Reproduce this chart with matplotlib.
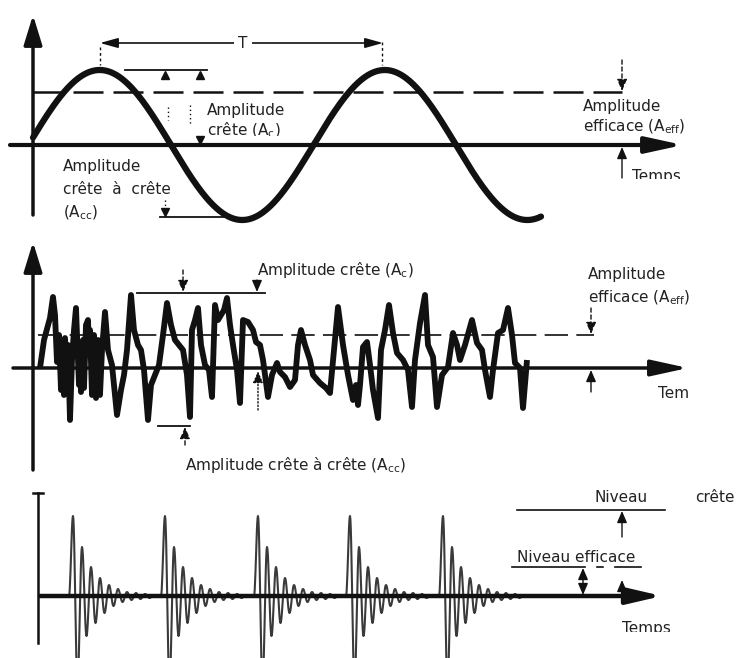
import numpy as np
import matplotlib
matplotlib.use("Agg")
from matplotlib import pyplot as plt
from matplotlib.transforms import Bbox, TransformedBbox

plt.rcParams['font.family'] = ['DejaVu Sans']
plt.rcParams['mathtext.default'] = 'regular'

W, H = 736, 658

# --- data (pixel-ish units, amplitude up from the time axis) ---
# top: pure sine
sine_amp = 75
sine_period = 285
sine_zero = 28.5
sine_t0, sine_t1 = 33, 541
rms_level_1 = 53

# middle: random vibration signal
noise_t = [40, 44, 50, 53, 55, 57, 59, 61, 62, 64, 65, 67, 68, 70, 72, 74, 76, 77, 79, 80,
           81, 83, 84, 86, 88, 89, 90, 92, 94, 96, 98, 100, 102, 105, 108, 112, 117, 121, 124, 127,
           131, 134, 138, 141, 144, 148, 151, 155, 159, 163, 167, 171, 175, 179, 183, 187, 190, 192, 195, 198,
           201, 205, 209, 212, 215, 218, 221, 224, 227, 230, 233, 237, 240, 243, 248, 253, 256, 260, 263, 268,
           272, 277, 280, 285, 290, 295, 298, 301, 305, 310, 313, 320, 326, 330, 334, 338, 343, 348, 353, 356,
           358, 360, 363, 367, 370, 373, 378, 381, 385, 389, 393, 397, 403, 408, 412, 415, 420, 425, 428, 433,
           437, 442, 448, 453, 457, 460, 465, 472, 477, 482, 485, 490, 493, 498, 503, 508, 512, 515, 520, 523, 527]
noise_amp = [0, 28, 50, 71, 53, 6, 33, -22, 28, -27, 30, -24, 23, -52, 8, 38, 60, 33, -17, 23,
             -24, 28, -20, 43, 48, 18, 38, -27, 33, -30, 28, -27, 18, 56, 18, 3, -47, -22, -7, 18,
             73, 38, 23, 18, -2, -52, -17, -7, 3, 33, 65, 43, 28, 23, 18, -7, -49, 38, 48, 60,
             23, 3, -2, -29, 63, 48, 53, 58, 70, 43, 23, -2, -35, 48, 46, 38, 26, 23, 8, -29,
             -7, 5, -4, -9, -19, -12, 23, 38, 23, 8, -7, -15, -20, -25, 18, 61, 23, -7, -32, -17,
             -37, -17, 21, 26, 3, -22, -50, 18, 38, 63, 35, 15, 8, -2, -39, 8, 45, 73, 23, 11,
             -39, -7, 1, 35, 23, 8, 23, 48, 25, 18, -2, -29, -2, 35, 38, 60, 33, 5, 0, -40, 8]
rms_level_2 = 33
peak_level_2 = 75
trough_level_2 = -58

# bottom: repeated shocks (decaying bursts)
burst_starts = [73, 165, 258, 350, 443]
burst_extrema = [80, -88, 49, -40, 29, -27, 18, -17, 11, -10, 7, -6, 4, -4, 3, -3, 2, -2, 1, 0]
burst_step = 4.5
peak_level_3 = 86
rms_level_3 = 29

ink = '#111111'
txt = '#222222'
fs = 11

fig = plt.figure(figsize=(W / 100, H / 100), dpi=100)


def band(top, bottom, zero):
    ax = fig.add_axes([0, 1 - bottom / H, 1, (bottom - top) / H])
    ax.set_xlim(0, W)
    ax.set_ylim(zero - bottom, zero - top)
    ax.axis('off')
    return ax


def axis_arrow(ax, p0, p1, lw=2.5, hl=1.3, hw=0.4, ms=14):
    ax.annotate('', xy=p1, xytext=p0,
                arrowprops=dict(arrowstyle='-|>,head_length=%g,head_width=%g' % (hl, hw),
                                mutation_scale=ms, lw=lw, color=ink, shrinkA=0, shrinkB=0))


def small_arrow(ax, x, y0, y1, ls='-'):
    ax.annotate('', xy=(x, y1), xytext=(x, y0),
                arrowprops=dict(arrowstyle='-|>,head_length=0.7,head_width=0.3',
                                mutation_scale=10, lw=1.0, color=ink, ls=ls,
                                shrinkA=0, shrinkB=0))


def clipped_text(ax, x, y, s, ymin, **kw):
    t = ax.text(x, y, s, clip_on=True, **kw)
    t.set_clip_box(TransformedBbox(Bbox([[0, ymin], [W, 1000]]), ax.transData))
    return t


# ---------------- panel 1 : sine ----------------
ax1 = band(0, 230, 145)
axis_arrow(ax1, (33, -70), (33, 130), lw=2.5)
axis_arrow(ax1, (10, 0), (683, 0), lw=3, hl=1.6, hw=0.35)
t = np.linspace(sine_t0, sine_t1, 600)
ax1.plot(t, sine_amp * np.sin(2 * np.pi * (t - sine_zero) / sine_period), color=ink, lw=4.5,
         solid_capstyle='round')
ax1.plot([33, 622], [rms_level_1, rms_level_1], color=ink, lw=1.8, dashes=(12, 4))

# period T
ax1.annotate('', xy=(100, 102), xytext=(383, 102),
             arrowprops=dict(arrowstyle='<|-|>,head_length=0.9,head_width=0.25',
                             mutation_scale=12, lw=1.2, color=ink, shrinkA=0, shrinkB=0))
ax1.text(243, 102, 'T', ha='center', va='center', fontsize=fs, color=txt,
         bbox=dict(boxstyle='square,pad=0.3', fc='white', ec='none'))
ax1.plot([100, 100], [98, 80], color=ink, lw=1, ls=(0, (2, 2)))
ax1.plot([382, 382], [103, 80], color=ink, lw=1, ls=(0, (2, 2)))

# peak / peak-to-peak marks
ax1.plot([125, 207], [sine_amp, sine_amp], color=ink, lw=1.3)
ax1.plot([165, 200], [sine_amp - 5, sine_amp - 5], ls='none', marker='^', ms=6, color=ink)
ax1.plot([168, 168], [38, 25], color=ink, lw=1, ls=(0, (1, 2)))
ax1.plot([190, 190], [40, 20], color=ink, lw=1, ls=(0, (1, 2)))
ax1.plot([200], [5], ls='none', marker='v', ms=6, color=ink)
ax1.plot([160, 230], [-72, -72], color=ink, lw=1.3)
ax1.plot([165], [-67], ls='none', marker='v', ms=6, color=ink)
ax1.plot([165, 165], [-55, -61], color=ink, lw=1, ls=(0, (1, 2)))
small_arrow(ax1, 622, 85, rms_level_1 + 1, ls=(0, (3, 2)))
small_arrow(ax1, 622, -33, -2)

ax1.text(207, 35, 'Amplitude', fontsize=fs, color=txt, va='center')
clipped_text(ax1, 207, 15, 'crête (A$_c$)', 9, fontsize=fs, color=txt, va='center')
ax1.text(583, 38, 'Amplitude', fontsize=fs, color=txt, va='center')
ax1.text(583, 18, 'efficace (A$_{eff}$)', fontsize=fs, color=txt, va='center')
clipped_text(ax1, 632, -31, 'Temps', -34, fontsize=fs, color=txt, va='center')
ax1.text(63, -22, 'Amplitude', fontsize=fs, color=txt, va='center')
ax1.text(63, -45, 'crête  à  crête', fontsize=fs, color=txt, va='center')
ax1.text(63, -68, '(A$_{cc}$)', fontsize=fs, color=txt, va='center')

# ---------------- panel 2 : random signal ----------------
ax2 = band(230, 480, 368)
axis_arrow(ax2, (33, -102), (33, 126), lw=2.5)
axis_arrow(ax2, (13, 0), (688, 0), lw=2.5, hl=1.6, hw=0.35)
ax2.plot([38, 594], [rms_level_2, rms_level_2], color=ink, lw=1.2, dashes=(14, 5))
ax2.plot(noise_t, noise_amp, color=ink, lw=4.2, solid_joinstyle='round', solid_capstyle='butt')
ax2.plot([137, 265], [peak_level_2, peak_level_2], color=ink, lw=1.3)
small_arrow(ax2, 183, 98, peak_level_2 + 1, ls=(0, (3, 2)))
small_arrow(ax2, 257, 88, peak_level_2 + 1)
ax2.plot([158, 190], [trough_level_2, trough_level_2], color=ink, lw=1.3)
small_arrow(ax2, 185, -77, trough_level_2 - 1, ls=(0, (3, 2)))
small_arrow(ax2, 258, -42, -3, ls=(0, (1, 1.5)))
small_arrow(ax2, 591, 60, rms_level_2 + 1, ls=(0, (3, 2)))
small_arrow(ax2, 591, -24, -2)

ax2.text(257, 98, 'Amplitude crête (A$_c$)', fontsize=fs, color=txt, va='center')
ax2.text(588, 93, 'Amplitude', fontsize=fs, color=txt, va='center')
ax2.text(588, 70, 'efficace (A$_{eff}$)', fontsize=fs, color=txt, va='center')
ax2.text(658, -26, 'Tem', fontsize=fs, color=txt, va='center')
clipped_text(ax2, 185, -97, 'Amplitude crête à crête (A$_{cc}$)', -105, fontsize=fs,
             color=txt, va='center')

# ---------------- panel 3 : shocks ----------------
ax3 = band(480, 658, 596)
ax3.plot([38, 38], [-47, 103], color=ink, lw=1.8)
ax3.plot([33, 43], [103, 103], color=ink, lw=1.8)
for s in burst_starts:
    ex_t = [s - 4] + [s + i * burst_step for i in range(len(burst_extrema))]
    ex_v = [0] + burst_extrema
    xs, ys = [], []
    for i in range(len(ex_t) - 1):
        u = np.linspace(0, 1, 12)
        xs.extend(ex_t[i] + (ex_t[i + 1] - ex_t[i]) * u)
        ys.extend(ex_v[i] + (ex_v[i + 1] - ex_v[i]) * (1 - np.cos(np.pi * u)) / 2)
    ax3.plot(xs, ys, color='#3a3a3a', lw=1.5)
axis_arrow(ax3, (40, 0), (662, 0), lw=3.2, hl=1.5, hw=0.35)

ax3.plot([517, 665], [peak_level_3, peak_level_3], color=ink, lw=1.2)
small_arrow(ax3, 622, 59, peak_level_3 - 1)
ax3.plot([512, 585], [rms_level_3, rms_level_3], color=ink, lw=1.2)
ax3.plot([597, 603], [rms_level_3, rms_level_3], color=ink, lw=1.2)
ax3.plot([615, 641], [rms_level_3, rms_level_3], color=ink, lw=1.2)
ax3.annotate('', xy=(583, rms_level_3 - 1), xytext=(583, 1),
             arrowprops=dict(arrowstyle='<|-|>,head_length=0.7,head_width=0.3',
                             mutation_scale=10, lw=1.0, color=ink, shrinkA=0, shrinkB=0))
small_arrow(ax3, 622, 1, 16)

ax3.text(595, 99, 'Niveau', fontsize=fs, color=txt, va='center')
ax3.text(695, 99, 'crête', fontsize=fs, color=txt, va='center')
ax3.text(517, 39, 'Niveau efficace', fontsize=fs, color=txt, va='center')
clipped_text(ax3, 622, -32, 'Temps', -36, fontsize=fs, color=txt, va='center')

fig.savefig('out.png', dpi=100, facecolor='white')
